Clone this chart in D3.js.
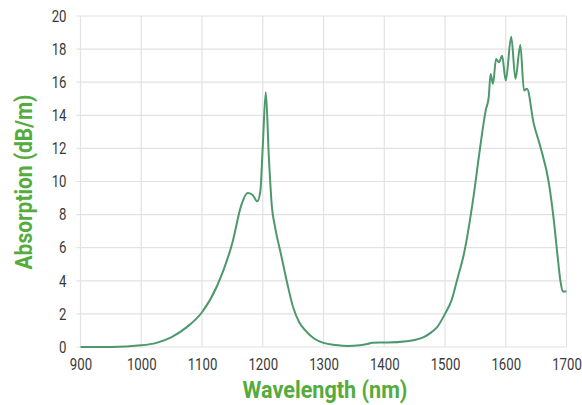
<!DOCTYPE html>
<html><head><meta charset="utf-8">
<script src="https://cdn.jsdelivr.net/npm/d3@7"></script>
<style>
body{margin:0;background:#fff;}
text{font-family:Roboto,"Noto Sans",sans-serif;}
</style></head>
<body><svg id="c" width="582" height="405"></svg>
<script>
const wavelength = [900,950,1000,1025,1050,1075,1100,1125,1150,1165,1175,1183,1191,1196,1200,1205,1210,1215,1220,1230,1240,1250,1260,1270,1285,1300,1320,1340,1360,1372,1380,1405,1437,1450,1465,1478,1487,1500,1511,1521,1531,1547,1558,1567,1572,1575,1579,1584,1589,1594,1600,1609,1616,1624,1630,1635,1646,1657,1671,1679,1685,1690,1694,1700];
const absorption = [0,0,0.1,0.25,0.6,1.2,2.1,3.7,6.3,8.6,9.3,9.2,8.8,9.4,12.1,15.4,11.5,8.5,7.3,5.6,3.9,2.4,1.5,1.0,0.5,0.25,0.12,0.06,0.1,0.18,0.26,0.27,0.35,0.42,0.6,0.9,1.2,2.0,2.85,4.2,5.6,9.1,12.1,14.3,15.1,16.5,15.9,17.4,17.2,17.6,16.1,18.75,16.2,18.25,15.5,15.6,13.5,12.1,9.9,7.7,5.6,4.0,3.35,3.35];
const xTicks = [900,1000,1100,1200,1300,1400,1500,1600,1700];
const yTicks = [0,2,4,6,8,10,12,14,16,18,20];
const xTitle = "Wavelength (nm)";
const yTitle = "Absorption (dB/m)";

const svg = d3.select("#c");
const x = d3.scaleLinear().domain([900,1700]).range([80.5,566.5]);
const y = d3.scaleLinear().domain([0,20]).range([347,16]);
const SX = 0.8;

const g = svg.append("g");
g.selectAll(".gx").data(xTicks).join("line")
  .attr("x1",d=>x(d)).attr("x2",d=>x(d)).attr("y1",y(20)).attr("y2",y(0))
  .attr("stroke","#e2e2e2").attr("stroke-width",1.2);
g.selectAll(".gy").data(yTicks).join("line")
  .attr("x1",x(900)-4).attr("x2",x(1700)).attr("y1",d=>y(d)).attr("y2",d=>y(d))
  .attr("stroke","#e2e2e2").attr("stroke-width",1.2);

const xAxis = d3.axisBottom(x).tickValues(xTicks).tickFormat(d3.format("d")).tickSize(0).tickPadding(11);
svg.append("g").attr("transform",`translate(0,${y(0)})`).call(xAxis)
  .call(a=>a.select(".domain").remove())
  .selectAll("text").attr("font-size",16.5).attr("font-weight",400).attr("fill","#3a3a3a")
  .style("font-family","Roboto").attr("transform",`scale(${SX},1)`);
const yPad = 14;
const yAxis = d3.axisLeft(y).tickValues(yTicks).tickFormat(d3.format("d")).tickSize(0).tickPadding(yPad);
svg.append("g").attr("transform",`translate(${x(900)},0)`).call(yAxis)
  .call(a=>a.select(".domain").remove())
  .selectAll("text").attr("font-size",16.5).attr("font-weight",400).attr("fill","#3a3a3a")
  .style("font-family","Roboto").attr("x",-yPad/SX).attr("transform",`scale(${SX},1)`);

const pts = wavelength.map((w,i)=>[w,absorption[i]]);
svg.append("path").datum(pts)
  .attr("fill","none").attr("stroke","#4d986d").attr("stroke-width",2)
  .attr("d",d3.line().x(d=>x(d[0])).y(d=>y(d[1])).curve(d3.curveMonotoneX));

const tx = svg.append("text").attr("text-anchor","middle")
  .attr("font-size",23).attr("font-weight","bold").attr("fill","#55ab3d").text(xTitle);
const wx = tx.node().getComputedTextLength();
tx.attr("transform",`translate(325,398) scale(${165/wx},1)`);
const ty = svg.append("text").attr("text-anchor","middle")
  .attr("font-size",23).attr("font-weight","bold").attr("fill","#55ab3d").text(yTitle);
const wy = ty.node().getComputedTextLength();
ty.attr("transform",`translate(32,182) rotate(-90) scale(${175/wy},1)`);
</script></body></html>
